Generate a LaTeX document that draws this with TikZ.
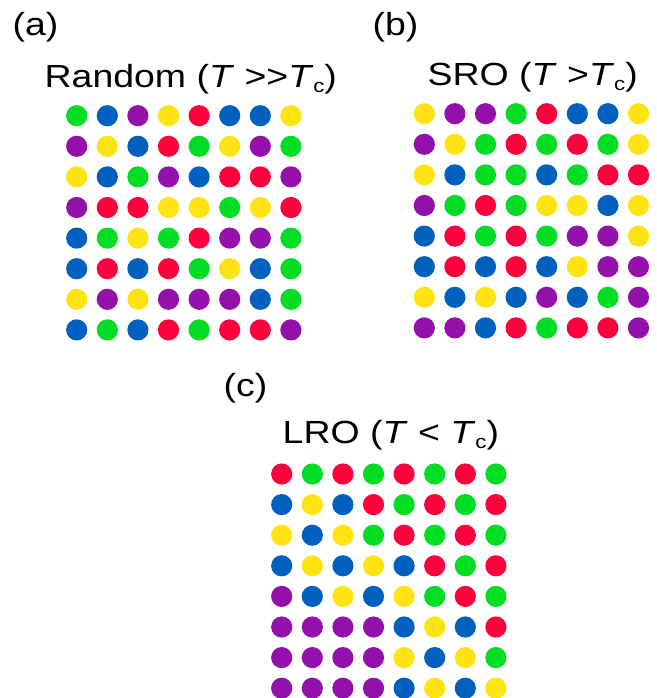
\documentclass[tikz,border=0pt]{standalone}
\usepackage{fontspec}
\setmainfont{Liberation Sans}
\definecolor{cG}{RGB}{0,221,34}
\definecolor{cB}{RGB}{0,96,192}
\definecolor{cP}{RGB}{148,16,170}
\definecolor{cY}{RGB}{255,227,20}
\definecolor{cR}{RGB}{255,0,60}
\newcommand\dotgrid[4]{%
  \foreach \row [count=\i from 0] in {#4} {
    \foreach \c [count=\j from 0] in \row {
      \node[dot,fill=c\c] (#1-\i-\j) at ({#2+30.6*\j},{#3+30.6*\i}) {};
    }
  }%
}
\newcommand\lbl[1]{\scalebox{1.17}[1]{\fontsize{32}{36}\selectfont #1}}
\newcommand\sbc{\raisebox{-5pt}{\fontsize{19}{20}\selectfont c}}
\begin{document}
\begin{tikzpicture}[x=1pt,y=-1pt,
  dot/.style={circle,inner sep=0pt,minimum size=21.2pt,draw=none},
  txt/.style={anchor=base west,inner sep=0pt}]
\useasboundingbox (0,0) rectangle (656,698);
\node[txt] (la) at (12.5,36) {\lbl{(a)}};
\node[txt] (ta) at (44.5,87.3) {\lbl{Random (\textit{T} >\kern0pt>\textit{T}\sbc)}};
\node[txt] (lb) at (372.5,35.5) {\lbl{(b)}};
\node[txt] (tb) at (427.5,86) {\lbl{SRO (\textit{T} >\textit{T}\sbc)}};
\node[txt] (lc) at (223.5,396) {\lbl{(c)}};
\node[txt] (tc) at (282.5,443.3) {\lbl{LRO (\textit{T} < \textit{T}\sbc)}};
\dotgrid{a}{76.7}{115.7}{{G,B,P,Y,R,B,B,Y},{P,Y,B,R,G,Y,P,G},{Y,B,G,P,B,R,R,P},{P,R,R,Y,Y,G,Y,R},{B,G,Y,G,R,P,P,G},{B,R,B,R,G,Y,B,G},{Y,P,Y,P,P,P,B,G},{B,G,B,R,G,R,R,P}}
\dotgrid{b}{424.3}{113.7}{{Y,P,P,G,R,B,B,Y},{P,Y,G,R,G,R,G,Y},{Y,B,G,G,B,G,R,R},{P,G,R,G,Y,Y,B,Y},{B,R,G,R,G,P,P,Y},{B,R,B,R,B,Y,P,P},{Y,B,Y,B,P,B,G,P},{P,P,B,R,G,R,R,P}}
\dotgrid{c}{281.7}{474}{{R,G,R,G,R,G,R,G},{B,Y,B,R,G,R,G,R},{Y,B,Y,G,R,G,R,G},{B,Y,B,Y,B,R,G,R},{P,B,Y,B,Y,G,R,G},{P,P,P,P,B,Y,B,R},{P,P,P,P,Y,B,Y,G},{P,P,P,P,B,Y,B,Y}}
\end{tikzpicture}
\end{document}
